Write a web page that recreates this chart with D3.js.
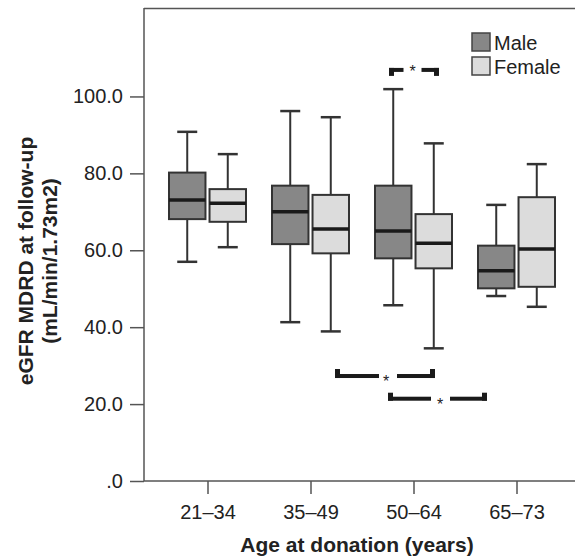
<!DOCTYPE html>
<html>
<head>
<meta charset="utf-8">
<script src="https://cdn.jsdelivr.net/npm/d3@7"></script>
<style>
  html, body { margin: 0; padding: 0; background: #fff; }
  svg { display: block; font-family: "Liberation Sans", Arial, Helvetica, sans-serif; }
</style>
</head>
<body>
<svg id="chart" width="575" height="560"></svg>
<script>
// ---- data ----
const categories = ["21–34", "35–49", "50–64", "65–73"];
const sexes = ["Male", "Female"];
// [lower whisker, Q1, median, Q3, upper whisker]
const maleStats = [
  [57.0, 68.1, 73.1, 80.2, 90.8],
  [41.3, 61.6, 70.0, 76.8, 96.2],
  [45.7, 57.9, 65.0, 76.8, 101.9],
  [48.1, 50.1, 54.7, 61.2, 71.8]
];
const femaleStats = [
  [60.8, 67.4, 72.2, 75.9, 85.0],
  [38.9, 59.2, 65.5, 74.4, 94.6],
  [34.5, 55.3, 61.8, 69.4, 87.8],
  [45.3, 50.5, 60.3, 73.8, 82.4]
];
const yTicks = [0, 20, 40, 60, 80, 100];
const yTickLabels = [".0", "20.0", "40.0", "60.0", "80.0", "100.0"];
// significance brackets: from group, to group, y value
const sigFrom = ["50–64", "35–49", "50–64"];
const sigTo = ["50–64", "50–64", "65–73"];
const sigValue = [106.9, 27.3, 21.4];
const sigLabel = ["*", "*", "*"];

// ---- layout ----
const svg = d3.select("#chart");
const plotLeft = 144, plotTop = 8, plotBottom = 481, plotRight = 575;
const x = d3.scaleBand().domain(categories).range([156.5, 568.5]);
const inner = d3.scaleBand().domain(sexes).range([-39, 38]).paddingInner(0.1);
const y = d3.scaleLinear().domain([0, 123]).range([plotBottom, plotTop]);
const fills = { Male: "#878787", Female: "#dcdcdc" };
const strokeCol = "#333";

// frame: top line
svg.append("line")
  .attr("x1", plotLeft).attr("x2", plotRight)
  .attr("y1", plotTop + 0.5).attr("y2", plotTop + 0.5)
  .attr("stroke", "#555").attr("stroke-width", 1.5);

// y axis
const yAxis = svg.append("g")
  .attr("transform", `translate(${plotLeft},0)`)
  .call(d3.axisLeft(y).tickValues(yTicks)
    .tickFormat((d, i) => yTickLabels[i]).tickSize(14).tickPadding(7));
yAxis.select(".domain").attr("stroke", "#555").attr("stroke-width", 1.5)
  .attr("d", `M0,${plotTop}V${plotBottom}`);
yAxis.selectAll(".tick line").attr("stroke", "#555").attr("stroke-width", 1.5);
yAxis.selectAll(".tick text").attr("font-size", 20).attr("fill", "#222")
  .attr("font-family", "Liberation Sans, Arial, sans-serif");

// x axis
const xAxis = svg.append("g")
  .attr("transform", `translate(0,${plotBottom})`)
  .call(d3.axisBottom(x).tickSize(13).tickPadding(11));
xAxis.select(".domain").attr("stroke", "#555").attr("stroke-width", 1.5)
  .attr("d", `M${plotLeft},0H${plotRight}`);
xAxis.selectAll(".tick line").attr("stroke", "#555").attr("stroke-width", 1.5);
xAxis.selectAll(".tick text").attr("font-size", 20).attr("fill", "#222")
  .attr("font-family", "Liberation Sans, Arial, sans-serif");

// axis titles
svg.append("text")
  .attr("x", 357).attr("y", 552)
  .attr("text-anchor", "middle")
  .attr("font-size", 21).attr("font-weight", "bold").attr("fill", "#222")
  .text("Age at donation (years)");
const yt = svg.append("text")
  .attr("transform", "translate(0,261) rotate(-90)")
  .attr("text-anchor", "middle")
  .attr("font-size", 21).attr("font-weight", "bold").attr("fill", "#222");
yt.append("tspan").attr("x", 0).attr("y", 33).text("eGFR MDRD at follow-up");
yt.append("tspan").attr("x", 0).attr("y", 57).text("(mL/min/1.73m2)");

// boxes
const boxes = [];
categories.forEach((c, i) => {
  boxes.push({ cat: c, sex: "Male", s: maleStats[i] });
  boxes.push({ cat: c, sex: "Female", s: femaleStats[i] });
});
const bw = inner.bandwidth();
const capW = 20;
const g = svg.append("g");
boxes.forEach(b => {
  const x0 = x(b.cat) + x.bandwidth() / 2 + inner(b.sex);
  const cx = x0 + bw / 2;
  const [lo, q1, med, q3, hi] = b.s;
  g.append("line").attr("x1", cx).attr("x2", cx).attr("y1", y(hi)).attr("y2", y(q3))
    .attr("stroke", strokeCol).attr("stroke-width", 2);
  g.append("line").attr("x1", cx).attr("x2", cx).attr("y1", y(q1)).attr("y2", y(lo))
    .attr("stroke", strokeCol).attr("stroke-width", 2);
  [hi, lo].forEach(v => {
    g.append("line").attr("x1", cx - capW / 2).attr("x2", cx + capW / 2)
      .attr("y1", y(v)).attr("y2", y(v))
      .attr("stroke", strokeCol).attr("stroke-width", 2.5);
  });
  g.append("rect").attr("x", x0).attr("y", y(q3)).attr("width", bw)
    .attr("height", y(q1) - y(q3))
    .attr("fill", fills[b.sex]).attr("stroke", strokeCol).attr("stroke-width", 2);
  g.append("line").attr("x1", x0).attr("x2", x0 + bw).attr("y1", y(med)).attr("y2", y(med))
    .attr("stroke", "#1a1a1a").attr("stroke-width", 3.5);
});

// significance brackets (layout offsets relative to group centres)
const sigLayout = [
  { dx1: -25, dx2: 25, midOff: 0, gapL: 9, gapR: 9, dir: 1, tick: 8 },
  { dx1: 24, dx2: 21, midOff: 51, gapL: 7, gapR: 11, dir: -1, tick: 9 },
  { dx1: -26, dx2: -30, midOff: 52, gapL: 9, gapR: 10, dir: -1, tick: 8 }
];
const sg = svg.append("g");
sigFrom.forEach((f, i) => {
  const L = sigLayout[i];
  const xa = x(f) + x.bandwidth() / 2 + L.dx1;
  const xb = x(sigTo[i]) + x.bandwidth() / 2 + L.dx2;
  const midX = i === 0 ? x(f) + x.bandwidth() / 2 - 1.5 : xa + L.midOff;
  const yb = y(sigValue[i]);
  const th = 4;
  sg.append("rect").attr("x", xa).attr("y", yb - th / 2).attr("width", midX - L.gapL - xa).attr("height", th).attr("fill", "#1a1a1a");
  sg.append("rect").attr("x", midX + L.gapR).attr("y", yb - th / 2).attr("width", xb - midX - L.gapR).attr("height", th).attr("fill", "#1a1a1a");
  const ty = L.dir > 0 ? yb - th / 2 : yb + th / 2 - L.tick;
  sg.append("rect").attr("x", xa).attr("y", ty).attr("width", 5).attr("height", L.tick).attr("fill", "#1a1a1a");
  sg.append("rect").attr("x", xb - 5).attr("y", ty).attr("width", 5).attr("height", L.tick).attr("fill", "#1a1a1a");
  sg.append("text").attr("x", midX).attr("y", L.dir > 0 ? yb + 7 : yb + 11)
    .attr("text-anchor", "middle").attr("font-size", 16).attr("fill", "#222")
    .text(sigLabel[i]);
});

// legend
const legend = svg.append("g");
sexes.forEach((s, i) => {
  const ly = 33 + i * 24;
  legend.append("rect").attr("x", 472).attr("y", ly).attr("width", 18).attr("height", 18)
    .attr("fill", fills[s]).attr("stroke", "#444").attr("stroke-width", 1.5);
  legend.append("text").attr("x", 494).attr("y", ly + 17)
    .attr("font-size", 20).attr("fill", "#222").text(s);
});
</script>
</body>
</html>
